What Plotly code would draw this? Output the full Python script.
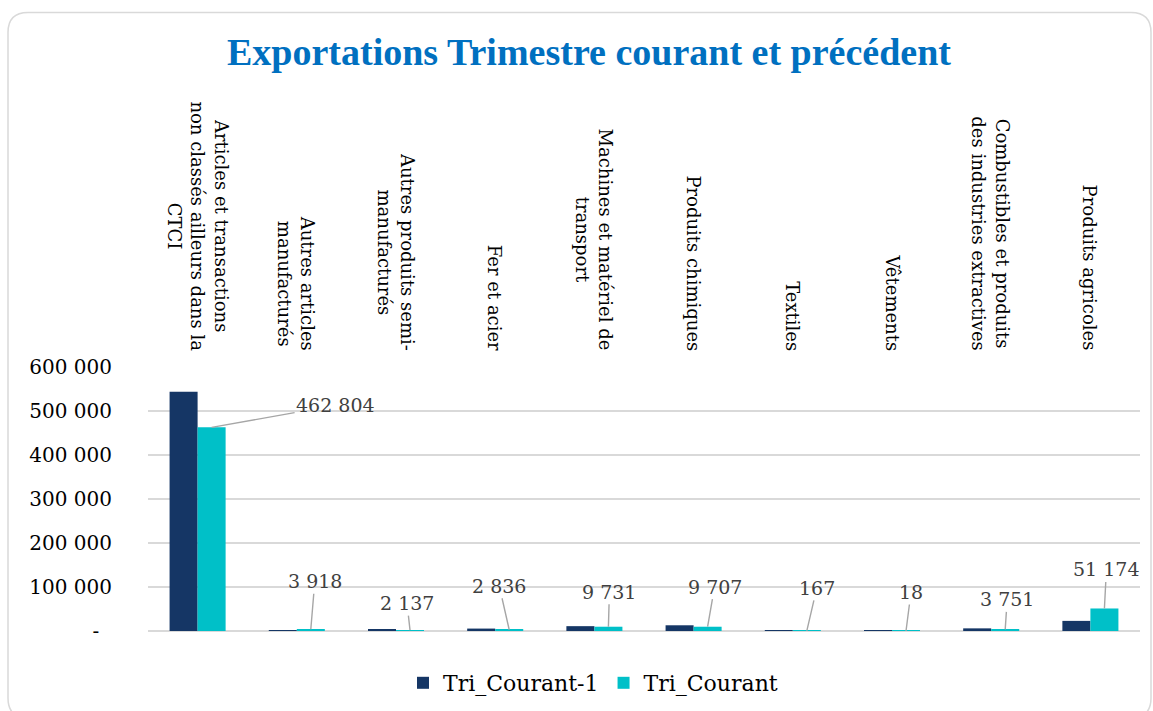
import plotly.graph_objects as go

# ---------------- data ----------------
CATEGORIES = [
    "Articles et transactions non classés ailleurs dans la CTCI",
    "Autres articles manufacturés",
    "Autres produits semi-manufacturés",
    "Fer et acier",
    "Machines et matériel de transport",
    "Produits chimiques",
    "Textiles",
    "Vêtements",
    "Combustibles et produits des industries extractives",
    "Produits agricoles",
]
CATEGORY_LABELS = [
    "Articles et transactions<br>non classés ailleurs dans la<br>CTCI",
    "Autres articles<br>manufacturés",
    "Autres produits semi-<br>manufacturés",
    "Fer et acier",
    "Machines et matériel de<br>transport",
    "Produits chimiques",
    "Textiles",
    "Vêtements",
    "Combustibles et produits<br>des industries extractives",
    "Produits agricoles",
]
SERIES_NAMES = ["Tri_Courant-1", "Tri_Courant"]
TRI_COURANT_1 = [544000, 1500, 2500, 5500, 11000, 13000, 500, 300, 6000, 23000]
TRI_COURANT = [462804, 3918, 2137, 2836, 9731, 9707, 167, 18, 3751, 51174]
Y_TICKS = [0, 100000, 200000, 300000, 400000, 500000, 600000]
Y_TICK_LABELS = ["-\u00a0\u00a0", "100 000", "200 000", "300 000", "400 000", "500 000", "600 000"]

# ---------------- style ----------------
W, H = 1153, 711
PLOT_L, PLOT_R, PLOT_T, PLOT_B = 148, 1140, 367, 631
NAVY = "#153665"
CYAN = "#00C0C8"
GRID = "#d9d9d9"
SERIF = "DejaVu Serif"
BARGAP = 0.435
# pixel offsets (text centre relative to bar top) for the value labels
LABEL_OFFSETS = [(124, -22), (4, -48), (-3, -27), (-10, -44), (1, -35),
                 (7, -40), (10, -43), (5, -39), (2, -30), (2, -39)]


def px_to_paper(px, py):
    return ((px - PLOT_L) / (PLOT_R - PLOT_L), (PLOT_B - py) / (PLOT_B - PLOT_T))


def fmt(v):
    return f"{v:,}".replace(",", " ")


fig = go.Figure()
fig.add_trace(go.Bar(name=SERIES_NAMES[0], x=CATEGORIES, y=TRI_COURANT_1,
                     marker=dict(color=NAVY, line=dict(width=0))))
fig.add_trace(go.Bar(name=SERIES_NAMES[1], x=CATEGORIES, y=TRI_COURANT,
                     marker=dict(color=CYAN, line=dict(width=0))))

annotations = []
# category labels above the plot
for i, lab in enumerate(CATEGORY_LABELS):
    annotations.append(dict(
        x=i, xref="x", y=px_to_paper(0, 353)[1], yref="paper",
        text=lab, textangle=90, showarrow=False,
        xanchor="center", yanchor="bottom", align="center",
        font=dict(family=SERIF, size=18, color="#000000"),
    ))

# value labels of the current quarter with leader lines
offset = (1 - BARGAP) / 4
for i, v in enumerate(TRI_COURANT):
    ax, ay = LABEL_OFFSETS[i]
    annotations.append(dict(
        x=i + offset, xref="x", y=v, yref="y",
        text=fmt(v), showarrow=True, arrowhead=0, arrowwidth=1.4,
        arrowcolor="#a6a6a6", ax=ax, ay=ay, standoff=0,
        font=dict(family=SERIF, size=19, color="#404040"),
    ))


# rounded card border
def card_path(x0, y0, x1, y1, r):
    def p(x, y):
        a, b = px_to_paper(x, y)
        return f"{a:.5f},{b:.5f}"
    return (f"M{p(x0 + r, y0)} L{p(x1 - r, y0)} Q{p(x1, y0)} {p(x1, y0 + r)} "
            f"L{p(x1, y1 - r)} Q{p(x1, y1)} {p(x1 - r, y1)} "
            f"L{p(x0 + r, y1)} Q{p(x0, y1)} {p(x0, y1 - r)} "
            f"L{p(x0, y0 + r)} Q{p(x0, y0)} {p(x0 + r, y0)} Z")


shapes = [dict(type="path", xref="paper", yref="paper",
               path=card_path(8, 12.5, 1151, 718, 20),
               line=dict(color="#d9d9d9", width=1.5), layer="below")]

lx, ly = px_to_paper(593, 683)

fig.update_layout(
    width=W, height=H,
    margin=dict(l=PLOT_L, r=W - PLOT_R, t=PLOT_T, b=H - PLOT_B, pad=0,
                autoexpand=False),
    paper_bgcolor="white", plot_bgcolor="white",
    barmode="group", bargap=BARGAP, bargroupgap=0,
    title=dict(text="<b>Exportations Trimestre courant et précédent</b>",
               x=589 / W, xref="container", xanchor="center",
               y=1 - 52 / H, yref="container", yanchor="middle",
               font=dict(family="Liberation Serif", size=38, color="#0070C0")),
    xaxis=dict(type="category", range=[-0.5, len(CATEGORIES) - 0.5],
               showticklabels=False, showgrid=False, zeroline=False,
               showline=False, ticks=""),
    yaxis=dict(range=[0, 600000], tickvals=Y_TICKS, ticktext=Y_TICK_LABELS,
               showgrid=True, gridcolor=GRID, gridwidth=1.5,
               zeroline=True, zerolinecolor=GRID, zerolinewidth=1.5,
               showline=False, ticks="", ticklabelstandoff=35,
               tickfont=dict(family=SERIF, size=20, color="#000000")),
    legend=dict(orientation="h", x=lx, y=ly, xanchor="center", yanchor="middle",
                font=dict(family=SERIF, size=22, color="#000000"),
                bgcolor="rgba(0,0,0,0)", traceorder="normal"),
    annotations=annotations,
    shapes=shapes,
)

fig.write_html("out.html", config={"displayModeBar": False},
               post_script="document.body.style.margin='0';document.body.style.overflow='hidden';")
